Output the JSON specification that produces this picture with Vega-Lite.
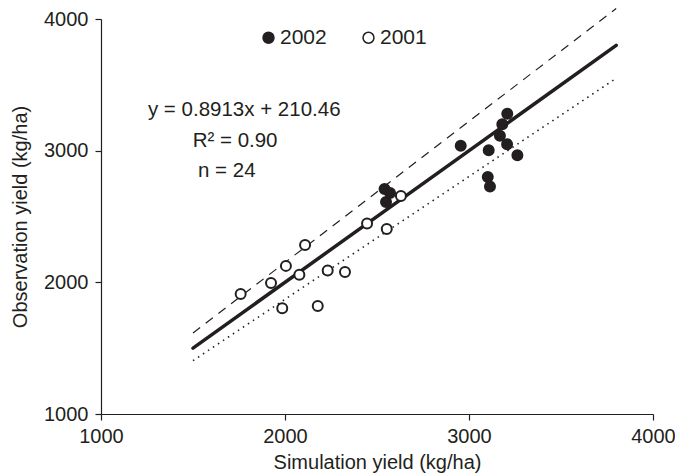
{
  "$schema": "https://vega.github.io/schema/vega-lite/v6.json",
  "width": 552,
  "height": 395,
  "autosize": {"type": "none"},
  "padding": {"left": 101, "top": 19, "right": 22, "bottom": 60},
  "background": "white",
  "config": {
    "font": "Liberation Sans",
    "view": {"stroke": null},
    "axis": {
      "grid": false,
      "domainColor": "#231f20",
      "domainWidth": 1.2,
      "tickColor": "#231f20",
      "tickWidth": 1.2,
      "tickSize": 6,
      "labelFont": "Liberation Sans",
      "labelFontSize": 20,
      "labelColor": "#231f20",
      "titleFont": "Liberation Sans",
      "titleFontSize": 20,
      "titleFontWeight": "normal",
      "titleColor": "#231f20"
    }
  },
  "datasets": {
    "pts": [
      {"year": "2001", "sim": 1759, "obs": 1912},
      {"year": "2001", "sim": 1924, "obs": 1995},
      {"year": "2001", "sim": 2005, "obs": 2125},
      {"year": "2001", "sim": 2109, "obs": 2284},
      {"year": "2001", "sim": 2078, "obs": 2058},
      {"year": "2001", "sim": 1985, "obs": 1803},
      {"year": "2001", "sim": 2232, "obs": 2089},
      {"year": "2001", "sim": 2326, "obs": 2079},
      {"year": "2001", "sim": 2178, "obs": 1821},
      {"year": "2001", "sim": 2446, "obs": 2446},
      {"year": "2001", "sim": 2553, "obs": 2405},
      {"year": "2001", "sim": 2630, "obs": 2656},
      {"year": "2002", "sim": 2541, "obs": 2709},
      {"year": "2002", "sim": 2571, "obs": 2679},
      {"year": "2002", "sim": 2549, "obs": 2610},
      {"year": "2002", "sim": 2955, "obs": 3038},
      {"year": "2002", "sim": 3208, "obs": 3281},
      {"year": "2002", "sim": 3181, "obs": 3200},
      {"year": "2002", "sim": 3168, "obs": 3114},
      {"year": "2002", "sim": 3207, "obs": 3049},
      {"year": "2002", "sim": 3263, "obs": 2965},
      {"year": "2002", "sim": 3107, "obs": 3003},
      {"year": "2002", "sim": 3102, "obs": 2800},
      {"year": "2002", "sim": 3114, "obs": 2727}
    ],
    "lines": [
      {"kind": "one", "sim": 1500, "obs": 1500},
      {"kind": "one", "sim": 3800, "obs": 3800},
      {"kind": "upper", "sim": 1500, "obs": 1615},
      {"kind": "upper", "sim": 3800, "obs": 4080},
      {"kind": "lower", "sim": 1500, "obs": 1405},
      {"kind": "lower", "sim": 3800, "obs": 3550}
    ],
    "notes": [
      {"label": "y = 0.8913x + 210.46", "sim": 1255, "obs": 3267},
      {"label": "R² = 0.90", "sim": 1498, "obs": 3030},
      {"label": "n = 24", "sim": 1527, "obs": 2803}
    ]
  },
  "layer": [
    {
      "data": {"name": "lines"},
      "transform": [{"filter": "datum.kind === 'one'"}],
      "mark": {"type": "line", "color": "#231f20", "strokeWidth": 3.5, "strokeCap": "round"},
      "encoding": {
        "x": {"field": "sim", "type": "quantitative", "scale": {"domain": [1000, 4000], "nice": false},
              "axis": {"values": [1000, 2000, 3000, 4000], "format": "d", "title": "Simulation yield (kg/ha)", "labelPadding": 6, "titlePadding": 6, "labelFlush": false}},
        "y": {"field": "obs", "type": "quantitative", "scale": {"domain": [1000, 4000], "nice": false},
              "axis": {"values": [1000, 2000, 3000, 4000], "format": "d", "title": "Observation yield (kg/ha)", "labelPadding": 7, "titlePadding": 13, "labelFlush": false}}
      }
    },
    {
      "data": {"name": "lines"},
      "transform": [{"filter": "datum.kind === 'upper'"}],
      "mark": {"type": "line", "color": "#231f20", "strokeWidth": 1.2, "strokeDash": [9, 7]},
      "encoding": {
        "x": {"field": "sim", "type": "quantitative"},
        "y": {"field": "obs", "type": "quantitative"}
      }
    },
    {
      "data": {"name": "lines"},
      "transform": [{"filter": "datum.kind === 'lower'"}],
      "mark": {"type": "line", "color": "#231f20", "strokeWidth": 1.6, "strokeDash": [1.5, 4.5]},
      "encoding": {
        "x": {"field": "sim", "type": "quantitative"},
        "y": {"field": "obs", "type": "quantitative"}
      }
    },
    {
      "data": {"name": "pts"},
      "mark": {"type": "point", "shape": "circle", "filled": false, "stroke": "#231f20", "strokeWidth": 2, "size": 100, "opacity": 1},
      "encoding": {
        "x": {"field": "sim", "type": "quantitative"},
        "y": {"field": "obs", "type": "quantitative"},
        "fill": {
          "field": "year", "type": "nominal",
          "scale": {"domain": ["2002", "2001"], "range": ["#231f20", "#ffffff"]},
          "legend": {
            "title": null,
            "orient": "none",
            "direction": "horizontal",
            "legendX": 157,
            "legendY": 8,
            "symbolType": "circle",
            "symbolSize": 120,
            "symbolStrokeColor": "#231f20",
            "symbolStrokeWidth": 1.5,
            "symbolFillColor": null,
            "labelFontSize": 21,
            "labelFont": "Liberation Sans",
            "labelColor": "#231f20",
            "labelOffset": 1,
            "columnPadding": 31
          }
        }
      }
    },
    {
      "data": {"name": "notes"},
      "mark": {"type": "text", "align": "left", "baseline": "alphabetic", "fontSize": 20.5, "font": "Liberation Sans", "color": "#231f20"},
      "encoding": {
        "x": {"field": "sim", "type": "quantitative"},
        "y": {"field": "obs", "type": "quantitative"},
        "text": {"field": "label"}
      }
    }
  ]
}
